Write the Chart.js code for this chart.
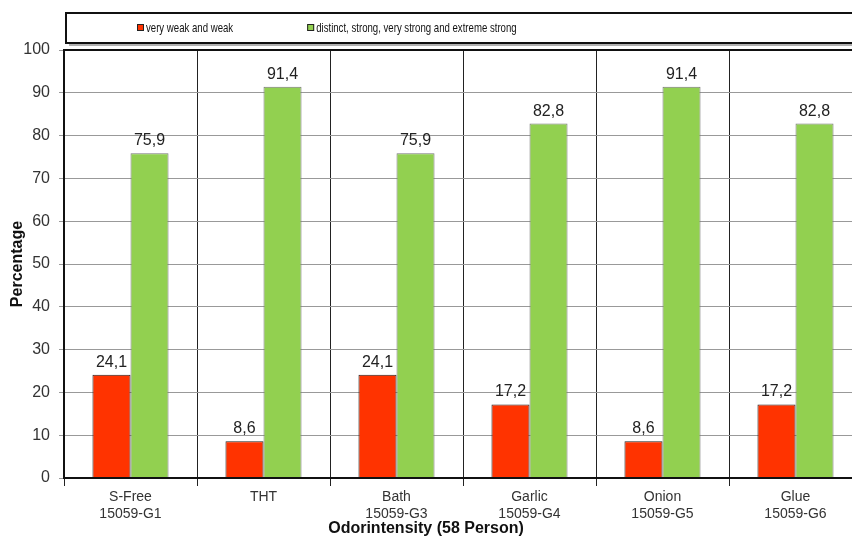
<!DOCTYPE html>
<html>
<head>
<meta charset="utf-8">
<script src="https://cdn.jsdelivr.net/npm/chart.js@4/dist/chart.umd.min.js"></script>
<style>
  html, body { margin: 0; padding: 0; background: #fff; overflow: hidden; }
  #wrap { position: relative; width: 852px; height: 538px; overflow: hidden; }
  #wrap canvas { position: absolute; left: 0; top: 0; }
</style>
</head>
<body>
<div id="wrap"><canvas id="chart" width="872" height="538"></canvas></div>
<script>
// Odour intensity ratings of six gas odorant samples (58 persons)
const categories = [
  ['S-Free', '15059-G1'],
  ['THT'],
  ['Bath', '15059-G3'],
  ['Garlic', '15059-G4'],
  ['Onion', '15059-G5'],
  ['Glue', '15059-G6']
];
const weakShare = [24.1, 8.6, 24.1, 17.2, 8.6, 17.2];
const strongShare = [75.9, 91.4, 75.9, 82.8, 91.4, 82.8];
const seriesNames = ['very weak and weak', 'distinct, strong, very strong and extreme strong'];
const yTicks = [0, 10, 20, 30, 40, 50, 60, 70, 80, 90, 100];
const yTitle = 'Percentage';
const xTitle = 'Odorintensity (58 Person)';

const VIEW_W = 852;
const RED = '#FF3300';
const GREEN = '#92D050';
const FONT = "'Liberation Sans', Arial, sans-serif";

const fmt = v => v.toFixed(1).replace('.', ',');

// Boxed legend across the top, plot frame, value labels and x title
const decorations = {
  id: 'decorations',
  afterDraw(chart) {
    const ctx = chart.ctx;
    const a = chart.chartArea;

    // legend box with a soft drop shadow
    const bx = a.left + 2, by = 13, bw = chart.width, bh = 30;
    ctx.save();
    ctx.fillStyle = '#b0b0b0';
    ctx.fillRect(bx + 3, by + 3, bw, bh);
    ctx.fillStyle = '#fff';
    ctx.fillRect(bx, by, bw, bh);
    ctx.strokeStyle = '#111';
    ctx.lineWidth = 2;
    ctx.strokeRect(bx, by, bw, bh);

    const cy = by + bh / 2;
    const sx = 0.74;
    ctx.font = '13px ' + FONT;
    ctx.textBaseline = 'middle';
    ctx.textAlign = 'left';
    let x = bx + 71;
    chart.data.datasets.forEach((ds, i) => {
      ctx.fillStyle = ds.backgroundColor;
      ctx.fillRect(x, cy - 4, 7, 7);
      ctx.strokeStyle = '#222';
      ctx.lineWidth = 1;
      ctx.strokeRect(x + 0.5, cy - 3.5, 6, 6);
      ctx.save();
      ctx.translate(x + 9, cy);
      ctx.scale(sx, 1);
      ctx.fillStyle = '#111';
      ctx.fillText(seriesNames[i], 0, 0);
      ctx.restore();
      x += 9 + ctx.measureText(seriesNames[i]).width * sx + 74;
    });
    ctx.restore();

    // x axis title centred under the page
    ctx.save();
    ctx.font = 'bold 16px ' + FONT;
    ctx.fillStyle = '#111';
    ctx.textAlign = 'center';
    ctx.textBaseline = 'middle';
    ctx.fillText(xTitle, VIEW_W / 2, 529);
    ctx.restore();
  },
  afterDatasetsDraw(chart) {
    const ctx = chart.ctx;
    const a = chart.chartArea;
    ctx.save();
    ctx.font = '16px ' + FONT;
    ctx.fillStyle = '#222';
    ctx.textAlign = 'center';
    ctx.textBaseline = 'alphabetic';
    chart.data.datasets.forEach((ds, i) => {
      chart.getDatasetMeta(i).data.forEach((bar, j) => {
        ctx.fillText(fmt(ds.data[j]), bar.x, bar.y - 8);
      });
    });
    ctx.strokeStyle = '#111';
    ctx.lineWidth = 2;
    ctx.strokeRect(a.left, a.top, a.right - a.left, a.bottom - a.top);
    ctx.restore();
  }
};

new Chart(document.getElementById('chart'), {
  type: 'bar',
  data: {
    labels: categories,
    datasets: [
      { label: seriesNames[0], data: weakShare, backgroundColor: RED, borderColor: '#222', borderWidth: 1 },
      { label: seriesNames[1], data: strongShare, backgroundColor: GREEN, borderColor: '#777', borderWidth: 1 }
    ]
  },
  options: {
    responsive: false,
    animation: false,
    layout: { padding: { left: 0, right: 10, top: 50, bottom: 0 } },
    datasets: { bar: { barPercentage: 1, categoryPercentage: 0.572 } },
    plugins: { legend: { display: false }, tooltip: { enabled: false } },
    scales: {
      x: {
        grid: { offset: true, color: '#222', lineWidth: 1, tickLength: 8, drawOnChartArea: true },
        border: { display: false },
        ticks: { color: '#333', font: { family: FONT, size: 14 }, padding: 3, maxRotation: 0, autoSkip: false },
        afterFit(scale) { scale.height = 60; }
      },
      y: {
        min: 0,
        max: 100,
        afterBuildTicks(scale) { scale.ticks = yTicks.map(v => ({ value: v })); },
        grid: { color: '#999', lineWidth: 1, tickLength: 5 },
        border: { display: false },
        ticks: { color: '#333', font: { family: FONT, size: 16 }, padding: 9 },
        title: { display: true, text: yTitle, color: '#111', font: { family: FONT, size: 16, weight: 'bold' }, padding: { top: 8, bottom: 0 } },
        afterFit(scale) { scale.width = 64; }
      }
    }
  },
  plugins: [decorations]
});
</script>
</body>
</html>
